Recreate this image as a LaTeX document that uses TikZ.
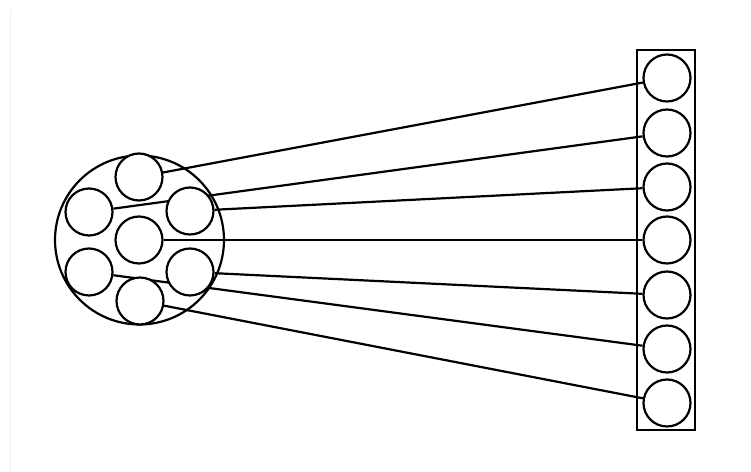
\documentclass[tikz,border=0pt]{standalone}
\usetikzlibrary{backgrounds}
\tikzset{
  strand/.style={circle, draw, line width=1.25pt, fill=white, inner sep=0pt, minimum size=0.94cm},
  bundle/.style={circle, draw, line width=1.25pt, inner sep=0pt, minimum size=3.38cm},
  link/.style={line width=1.25pt},
}
\begin{document}
\begin{tikzpicture}[x=0.02cm, y=-0.02cm]
    \useasboundingbox (0,0) rectangle (751,472);

    % faint page edge
    \draw[gray!12, line width=0.4pt] (10,10) -- (10,472);

    % Bundle (big circle with seven strands)
    \node[bundle] (cable) at (139.5,240) {};
    \node[strand] (top) at (139,177) {};
    \node[strand] (ul)  at (89,212) {};
    \node[strand] (ur)  at (190,211) {};
    \node[strand] (mid) at (139,240) {};
    \node[strand] (ll)  at (89,272) {};
    \node[strand] (lr)  at (190,272) {};
    \node[strand] (bot) at (140,301) {};

    % Column of strands on the right
    \draw[link] (637,50) rectangle (695,430);
    \foreach \i/\y in {1/78, 2/133, 3/187, 4/240, 5/295, 6/349, 7/403}
        \node[strand] (r\i) at (667,\y) {};

    % Connections (behind the strands)
    \begin{pgfonlayer}{background}
        \draw[link] (top) -- (r1);
        \draw[link] (ul)  -- (r2);
        \draw[link] (ur)  -- (r3);
        \draw[link] (mid) -- (r4);
        \draw[link] (lr)  -- (r5);
        \draw[link] (ll)  -- (r6);
        \draw[link] (bot) -- (r7);
    \end{pgfonlayer}
\end{tikzpicture}
\end{document}
